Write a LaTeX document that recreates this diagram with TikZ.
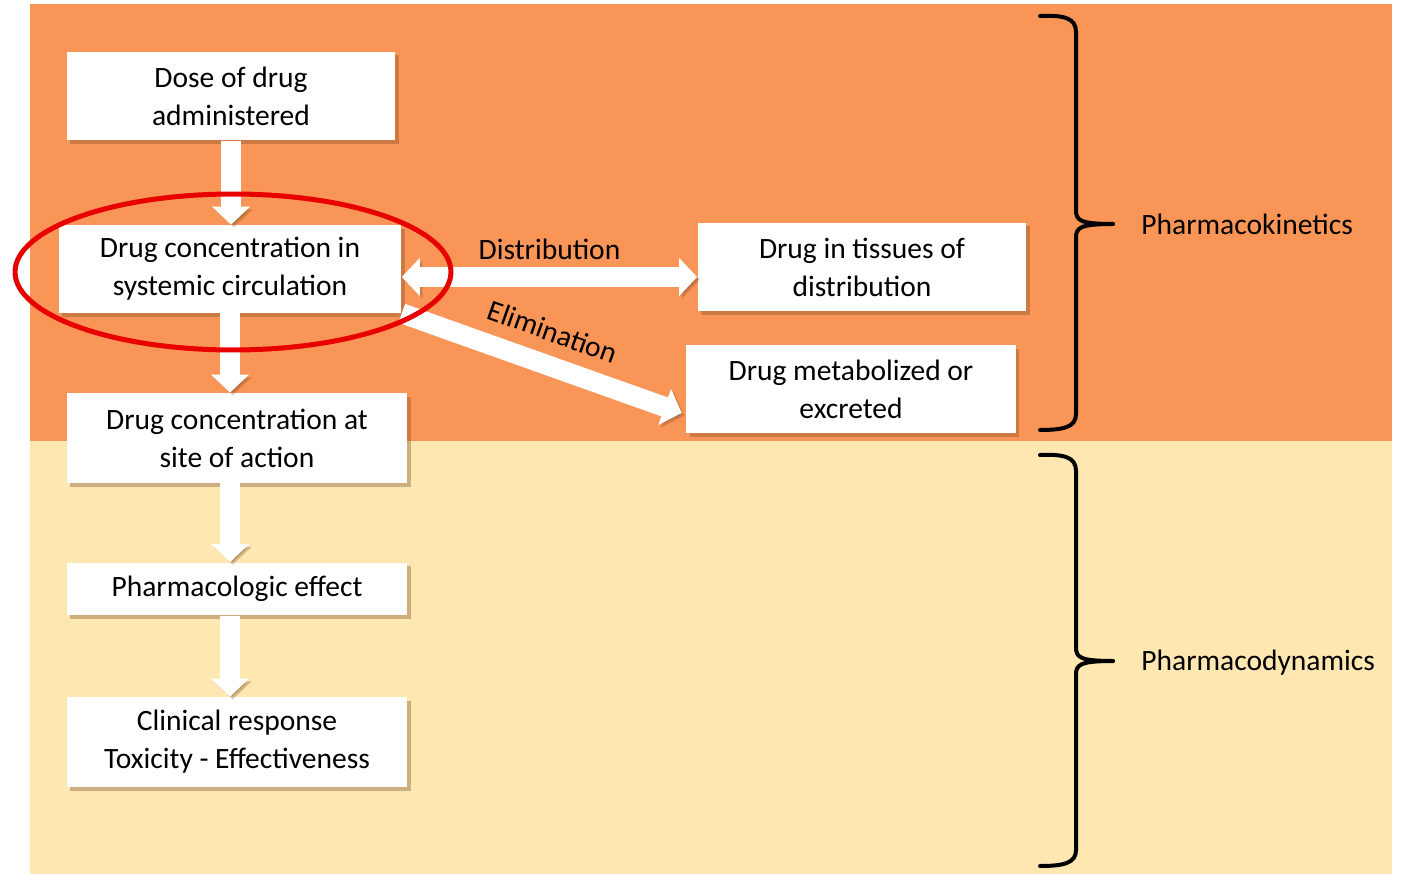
\documentclass[tikz,border=0pt]{standalone}
\usepackage{fontspec}
\setmainfont{Carlito}
\usetikzlibrary{arrows.meta,shadows}

\definecolor{pkorange}{RGB}{250,149,88}
\definecolor{pdyellow}{RGB}{255,231,178}
\definecolor{ringred}{RGB}{232,0,0}
\definecolor{shadowc}{RGB}{120,70,30}

\tikzset{
	stepbox/.style={fill=white, align=center, inner sep=0pt,
		drop shadow={shadow xshift=2pt, shadow yshift=-2pt, opacity=0.35, fill=shadowc}},
	blockarrow/.style={draw=white, line width=0.4cm, -{Triangle[width=0.74cm,length=0.36cm]},
		preaction={draw=shadowc, opacity=0.3, transform canvas={xshift=1.5pt,yshift=-1.5pt}}},
	brace/.style={line width=0.08cm, line cap=round, line join=round},
}

\begin{document}
\begin{tikzpicture}[x=0.02cm, y=-0.02cm, font=\fontsize{16.8}{21.6}\selectfont]
\useasboundingbox (0,0) rectangle (1402,874);
% two phases
\fill[pkorange] (30,4) rectangle (1392,441);
\fill[pdyellow] (30,441) rectangle (1392,874);

\node[stepbox, minimum width=6.58cm, minimum height=1.78cm] (dose) at (231,96) {Dose of drug\\administered};
\node[stepbox, minimum width=6.86cm, minimum height=1.76cm] (sys) at (230,269) {Drug concentration in\\systemic circulation};
\node[stepbox, minimum width=6.82cm, minimum height=1.80cm] (site) at (237,438) {Drug concentration at\\site of action};
\node[stepbox, minimum width=6.82cm, minimum height=1.06cm] (effect) at (237,589) {Pharmacologic effect};
\node[stepbox, minimum width=6.82cm, minimum height=1.80cm] (clin) at (237,742) {Clinical response\\Toxicity - Effectiveness};
\node[stepbox, minimum width=6.58cm, minimum height=1.78cm] (tissue) at (862,267) {Drug in tissues of\\distribution};
\node[stepbox, minimum width=6.60cm, minimum height=1.76cm] (metab) at (851,389) {Drug metabolized or\\excreted};

\draw[blockarrow] (dose.south) -- (dose.south |- sys.north);
\draw[blockarrow] (sys.south) -- (sys.south |- site.north);
\draw[blockarrow] (sys.south |- site.south) -- (sys.south |- effect.north);
\draw[blockarrow] (sys.south |- effect.south) -- (sys.south |- clin.north);
\draw[blockarrow, {Triangle[width=0.74cm,length=0.36cm]}-{Triangle[width=0.74cm,length=0.36cm]}]
	([yshift=-0.16cm]sys.east) -- ([yshift=-0.16cm]sys.east -| tissue.west)
	node[midway, above=0.15cm, inner sep=0pt] (distlbl) {Distribution};
\draw[blockarrow] (sys.south east) -- ([xshift=-0.08cm, yshift=-0.48cm]metab.west)
	node[midway, sloped, above=0.26cm, inner sep=0pt] (elimlbl) {Elimination};

% highlight
\draw[ringred, line width=0.1cm] (233,272) ellipse [x radius=4.36cm, y radius=1.56cm];

% braces
\draw[brace] (1040,16) .. controls (1064,15) and (1076,18) .. (1076,32) -- (1076,210)
	.. controls (1076,220) and (1079,224) .. (1113,224);
\draw[brace] (1113,224) .. controls (1079,224) and (1076,228) .. (1076,238) -- (1076,414)
	.. controls (1076,427) and (1064,430) .. (1040,430);
\draw[brace] (1040,455) .. controls (1064,454) and (1076,457) .. (1076,471) -- (1076,647)
	.. controls (1076,657) and (1079,661) .. (1113,661);
\draw[brace] (1113,661) .. controls (1079,661) and (1076,665) .. (1076,675) -- (1076,850)
	.. controls (1076,863) and (1064,866) .. (1040,866);
\node[anchor=west, inner sep=0pt] (pk) at (1141,224) {Pharmacokinetics};
\node[anchor=west, inner sep=0pt] (pd) at (1141,663) {Pharmacodynamics};
\end{tikzpicture}
\end{document}
